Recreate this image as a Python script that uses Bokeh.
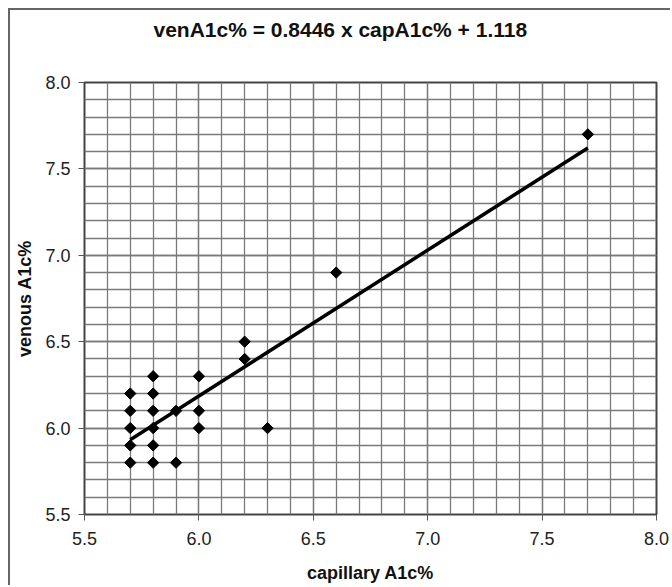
import math
from bokeh.plotting import figure
from bokeh.models import FixedTicker, Range1d, CustomJSTickFormatter, Title
from bokeh.embed import file_html
from bokeh.resources import INLINE

cap = [5.7, 5.7, 5.7, 5.7, 5.7, 5.8, 5.8, 5.8, 5.8, 5.8, 5.8, 5.9, 5.9, 6.0, 6.0, 6.0, 6.2, 6.2, 6.3, 6.6, 7.7]
ven = [6.2, 6.1, 6.0, 5.9, 5.8, 6.3, 6.2, 6.1, 6.0, 5.9, 5.8, 6.1, 5.8, 6.3, 6.1, 6.0, 6.5, 6.4, 6.0, 6.9, 7.7]
slope = 0.8446
intercept = 1.118
fit_x = [min(cap), max(cap)]
fit_y = [slope * x + intercept for x in fit_x]
ticks = [5.5, 6.0, 6.5, 7.0, 7.5, 8.0]
minor = [round(5.5 + 0.1 * i, 1) for i in range(26)]
title_text = "venA1c% = 0.8446 x capA1c% + 1.118"

p = figure(width=662, height=577, output_backend="svg", toolbar_location=None,
           x_range=Range1d(5.5, 8.0), y_range=Range1d(5.5, 8.0),
           min_border_left=74, min_border_top=72, min_border_right=16, min_border_bottom=73)
p.styles = {"border-left": "2px solid #666666", "border-top": "2px solid #666666",
            "margin-left": "8px", "margin-top": "8px"}

# spacer between the title and the plot frame (nearest the frame)
p.add_layout(Title(text=" ", text_font="Liberation Sans", text_font_size="21px", standoff=11), "above")
p.add_layout(Title(text=title_text, align="left", offset=69, standoff=11,
                   text_font="Liberation Sans", text_font_size="21px",
                   text_font_style="bold", text_color="#111111"), "above")

fmt = CustomJSTickFormatter(code="return tick.toFixed(1);")
for ax, lab in ((p.xaxis[0], "capillary A1c%"), (p.yaxis[0], "venous A1c%")):
    ax.ticker = FixedTicker(ticks=ticks, minor_ticks=minor)
    ax.formatter = fmt
    ax.axis_label = lab
    ax.axis_label_text_font = "Liberation Sans"
    ax.axis_label_text_font_style = "bold"
    ax.axis_label_text_font_size = "18px"
    ax.axis_label_text_color = "#111111"
    ax.major_label_text_font = "Liberation Sans"
    ax.major_label_text_font_size = "18px"
    ax.major_label_text_color = "#222222"
    ax.axis_line_color = None
    ax.major_tick_line_color = "#555555"
    ax.major_tick_out = 6
    ax.major_tick_in = 0
    ax.minor_tick_line_color = None

p.xaxis[0].major_label_standoff = 11
p.xaxis[0].axis_label_standoff = 15
p.yaxis[0].major_label_standoff = 8
p.yaxis[0].axis_label_standoff = 7

for g in (p.xgrid[0], p.ygrid[0]):
    g.grid_line_color = "#7a7a7a"
    g.minor_grid_line_color = "#7a7a7a"
    g.grid_line_width = 1.3
    g.minor_grid_line_width = 1.3

p.outline_line_color = "#444444"
p.outline_line_width = 2

p.line(fit_x, fit_y, line_color="black", line_width=3.5)
p.scatter(cap, ven, marker="square", size=8, angle=math.pi / 4, color="black")

open("out.html", "w").write(file_html(p, INLINE))
